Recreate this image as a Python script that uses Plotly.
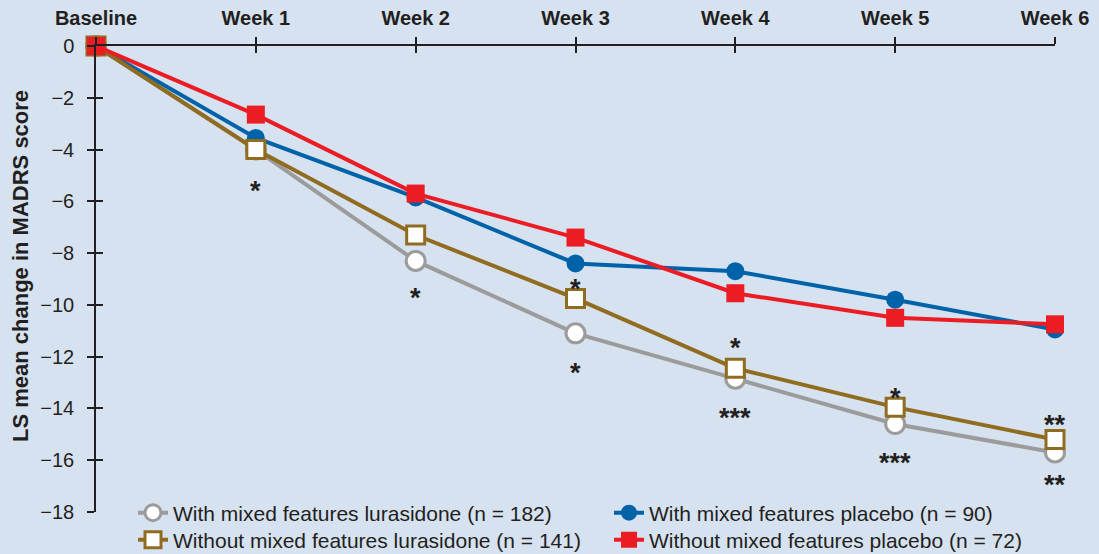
import plotly.graph_objects as go

weeks = ["Baseline", "Week 1", "Week 2", "Week 3", "Week 4", "Week 5", "Week 6"]
xpos = [0, 1, 2, 3, 4, 5, 6]

with_lur = [0, -4.0, -8.3, -11.1, -12.85, -14.6, -15.7]
without_lur = [0, -4.0, -7.3, -9.75, -12.45, -13.95, -15.2]
with_pbo = [0, -3.55, -5.85, -8.4, -8.7, -9.8, -10.95]
without_pbo = [0, -2.65, -5.7, -7.4, -9.55, -10.5, -10.75]

names = [
    "With mixed features lurasidone (n = 182)",
    "With mixed features placebo (n = 90)",
    "Without mixed features lurasidone (n = 141)",
    "Without mixed features placebo (n = 72)",
]

# significance markers: (week index, y value, label)
sig_x = [1, 2, 3, 3, 4, 4, 5, 5, 6, 6]
sig_y = [-5.6, -9.75, -9.4, -12.65, -11.65, -14.35, -13.6, -16.1, -14.65, -16.95]
sig_txt = ["*", "*", "*", "*", "*", "***", "*", "***", "**", "**"]

yticks = list(range(-18, 1, 2))
ytick_text = ["0" if v == 0 else "\u2212" + str(-v) for v in yticks]

bg = "#d6e2ef"
ink = "#231f20"
font_family = "Liberation Sans, Arial, sans-serif"

fig = go.Figure()
fig.add_trace(go.Scatter(
    x=xpos, y=with_lur, name=names[0], mode="lines+markers",
    line=dict(color="#9b9b9b", width=4),
    marker=dict(symbol="circle", size=19, color="white", line=dict(color="#9b9b9b", width=3)),
    cliponaxis=False, legend="legend"))
fig.add_trace(go.Scatter(
    x=xpos, y=with_pbo, name=names[1], mode="lines+markers",
    line=dict(color="#0062a9", width=4),
    marker=dict(symbol="circle", size=18, color="#0062a9"),
    cliponaxis=False, legend="legend2"))
fig.add_trace(go.Scatter(
    x=xpos, y=without_lur, name=names[2], mode="lines+markers",
    line=dict(color="#906c20", width=4),
    marker=dict(symbol="square", size=18, color="white", line=dict(color="#906c20", width=3)),
    cliponaxis=False, legend="legend3"))
fig.add_trace(go.Scatter(
    x=xpos, y=without_pbo, name=names[3], mode="lines+markers",
    line=dict(color="#ec1c24", width=4),
    marker=dict(symbol="square", size=18, color="#ec1c24"),
    cliponaxis=False, legend="legend4"))

for xi, yi, t in zip(sig_x, sig_y, sig_txt):
    fig.add_annotation(x=xi, y=yi, text="<b>" + t + "</b>", showarrow=False,
                       font=dict(size=27, color=ink, family=font_family))

plot_h = 554 - 46 - 42
plot_w = 1099 - 96 - 44


def py(p):
    return (512 - p) / plot_h


def px(p):
    return (p - 96) / plot_w


fig.add_annotation(xref="paper", yref="paper", x=px(20), y=py(266), textangle=-90,
                   text="<b>LS mean change in MADRS score</b>", showarrow=False,
                   xanchor="center", yanchor="middle",
                   font=dict(size=22, color=ink, family=font_family))


def leg(xp, yp):
    return dict(orientation="v", x=px(xp), xanchor="left", y=py(yp), yanchor="middle",
                bgcolor="rgba(0,0,0,0)", font=dict(size=21, color=ink, family=font_family))


fig.update_layout(
    width=1099, height=554,
    paper_bgcolor=bg, plot_bgcolor=bg,
    margin=dict(l=96, r=44, t=46, b=42, autoexpand=False),
    font=dict(family=font_family, color=ink, size=20),
    showlegend=True,
    legend=leg(133, 513),
    legend2=leg(609, 513),
    legend3=leg(133, 540),
    legend4=leg(609, 540),
    xaxis=dict(range=[0, 6], side="top", tickmode="array", tickvals=xpos,
               ticktext=["<b>" + w + "</b>" for w in weeks],
               showline=True, linecolor=ink, linewidth=1.5, showgrid=False, zeroline=False,
               ticks="outside", ticklen=7, tickwidth=1.5, tickcolor=ink,
               tickfont=dict(size=20), ticklabelstandoff=4, anchor="y"),
    yaxis=dict(range=[-18, 0], tickmode="array", tickvals=yticks, ticktext=ytick_text,
               showline=True, linecolor=ink, linewidth=1.5, showgrid=False, zeroline=False,
               ticks="outside", ticklen=7, tickwidth=1.5, tickcolor=ink,
               tickfont=dict(size=20), ticklabelstandoff=9),
    xaxis2=dict(range=[0, 6], overlaying="x", side="top", anchor="y", tickmode="array", tickvals=xpos,
                showticklabels=False, ticks="inside", ticklen=7, tickwidth=1.5, tickcolor=ink,
                showgrid=False, zeroline=False, showline=False),
    yaxis2=dict(range=[-18, 0], overlaying="y", side="left", anchor="x", tickmode="array",
                tickvals=yticks,
                showticklabels=False, ticks="inside", ticklen=7, tickwidth=1.5, tickcolor=ink,
                showgrid=False, zeroline=False, showline=False),
)
fig.add_trace(go.Scatter(x=[None], y=[None], xaxis="x2", yaxis="y2", showlegend=False, hoverinfo="skip"))

fig.write_html("out.html", config={"displayModeBar": False},
               post_script="document.body.style.margin='0';document.body.style.background='%s';" % bg)
